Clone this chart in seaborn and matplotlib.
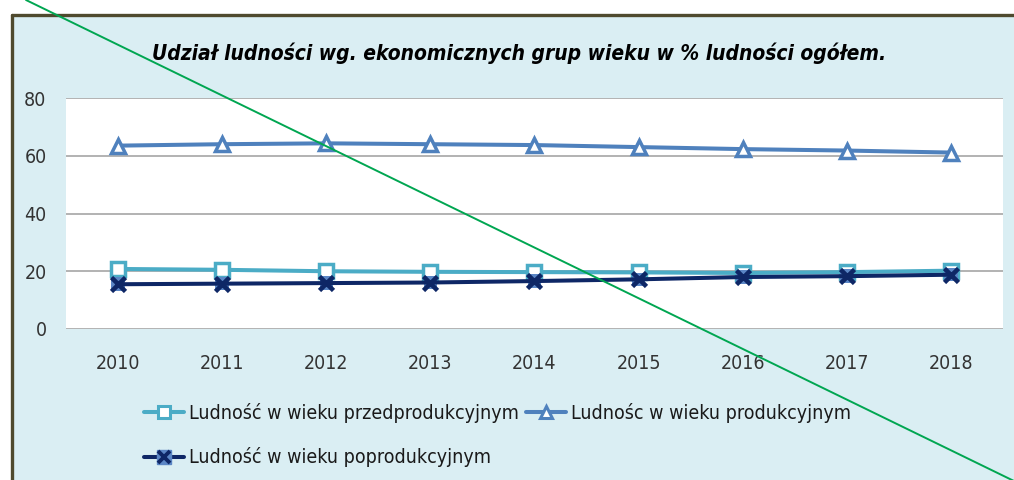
import matplotlib
matplotlib.use("Agg")
import matplotlib.pyplot as plt
import seaborn as sns
import pandas as pd
from matplotlib import font_manager as fm
from matplotlib.lines import Line2D
from matplotlib.patches import Rectangle
from matplotlib.legend_handler import HandlerTuple

# ---------------- data ----------------
years = [2010, 2011, 2012, 2013, 2014, 2015, 2016, 2017, 2018]
przedprodukcyjny = [20.8, 20.5, 20.0, 19.8, 19.7, 19.6, 19.4, 19.7, 20.2]
produkcyjny = [63.5, 64.0, 64.3, 64.0, 63.7, 63.0, 62.3, 61.8, 61.1]
poprodukcyjny = [15.5, 15.7, 15.9, 16.1, 16.6, 17.2, 18.0, 18.3, 18.8]
y_ticks = [0, 20, 40, 60, 80]

title = "Udział ludności wg. ekonomicznych grup wieku w % ludności ogółem."
lab_przed = "Ludność w wieku przedprodukcyjnym"
lab_prod = "Ludnośc w wieku produkcyjnym"
lab_po = "Ludność w wieku poprodukcyjnym"

# ---------------- style ----------------
sns.set_theme(style="white")
names = {f.name for f in fm.fontManager.ttflist}
if "Liberation Sans Narrow" in names:
    FONT = "Liberation Sans Narrow"
    STRETCH = "normal"
else:
    FONT = "DejaVu Sans"
    STRETCH = "condensed"
plt.rcParams["font.family"] = [FONT, "DejaVu Sans"]
plt.rcParams["font.stretch"] = STRETCH

C_PRZED = "#4bacc6"
C_PROD = "#4f81bd"
C_PO = "#0e2766"
C_PO_BG = "#5b86c5"
BG = "#daeef3"
FRAME = "#4f4a2e"
GREEN = "#00a651"
LW = 2.9

W, H = 1014, 480
fig = plt.figure(figsize=(W / 100, H / 100), dpi=100)
fig.patch.set_facecolor("white")

# chart area background with frame (top & left border)
fig.patches.append(Rectangle((12 / W, 0), 1.0, 1 - 15 / H, transform=fig.transFigure,
                             facecolor=BG, edgecolor="none", zorder=-10))
fig.lines.append(Line2D([12 / W, 1.0], [1 - 15 / H, 1 - 15 / H], transform=fig.transFigure,
                        color=FRAME, lw=2.4, zorder=-5))
fig.lines.append(Line2D([12 / W, 12 / W], [0, 1 - 15 / H], transform=fig.transFigure,
                        color=FRAME, lw=2.4, zorder=-5))

ax = fig.add_axes([66 / W, 1 - 329 / H, (1003 - 66) / W, (329 - 98) / H])
ax.set_facecolor("white")

df = pd.DataFrame({"rok": years, "przed": przedprodukcyjny,
                   "prod": produkcyjny, "po": poprodukcyjny})

sns.lineplot(data=df, x="rok", y="przed", ax=ax, color=C_PRZED, lw=LW,
             marker="s", markersize=9.5, markerfacecolor="white",
             markeredgecolor=C_PRZED, markeredgewidth=2.5, zorder=3)
sns.lineplot(data=df, x="rok", y="prod", ax=ax, color=C_PROD, lw=LW,
             marker="^", markersize=10.5, markerfacecolor="white",
             markeredgecolor=C_PROD, markeredgewidth=2.5, zorder=3)
sns.scatterplot(data=df, x="rok", y="po", ax=ax, marker="s", s=95,
                color=C_PO_BG, edgecolor="none", zorder=4)
sns.lineplot(data=df, x="rok", y="po", ax=ax, color=C_PO, lw=LW,
             marker="x", markersize=10, markeredgecolor=C_PO,
             markeredgewidth=3.3, zorder=5)

ax.set_xlim(years[0] - 0.5, years[-1] + 0.5)
ax.set_ylim(y_ticks[0], y_ticks[-1])
ax.set_xticks(years)
ax.set_xticklabels([str(y) for y in years])
ax.set_yticks(y_ticks)
ax.set_yticklabels([str(v) for v in y_ticks])
ax.set_xlabel("")
ax.set_ylabel("")
ax.grid(axis="y", color="#a6a6a6", lw=1.2)
ax.grid(axis="x", visible=False)
for s in ["top", "right", "left", "bottom"]:
    ax.spines[s].set_visible(False)
ax.tick_params(axis="x", length=0, pad=18, labelsize=14, labelcolor="#333333")
ax.tick_params(axis="y", length=0, pad=14, labelsize=14, labelcolor="#333333")

fig.text(519 / W, 1 - 60 / H, title, ha="center", va="baseline",
         fontsize=15, fontweight="bold", fontstyle="italic", color="black")

# legend
h_przed = Line2D([], [], color=C_PRZED, lw=LW, marker="s", markersize=8,
                 markerfacecolor="white", markeredgecolor=C_PRZED, markeredgewidth=2.2)
h_prod = Line2D([], [], color=C_PROD, lw=LW, marker="^", markersize=9,
                markerfacecolor="white", markeredgecolor=C_PROD, markeredgewidth=2.2)
h_po_bg = Line2D([], [], color=C_PO, lw=LW, marker="s", markersize=9.5,
                 markerfacecolor=C_PO_BG, markeredgecolor=C_PO_BG)
h_po = Line2D([], [], color=C_PO, lw=0, marker="x", markersize=8,
              markeredgecolor=C_PO, markeredgewidth=2.8)
leg = fig.legend([h_przed, (h_po_bg, h_po), h_prod], [lab_przed, lab_po, lab_prod],
                 loc="upper left", bbox_to_anchor=(144 / W, 1 - 403 / H), ncol=2,
                 frameon=False, fontsize=14, handlelength=2.06, handletextpad=0.26,
                 columnspacing=0.36, labelspacing=1.25, borderpad=0, borderaxespad=0,
                 handler_map={tuple: HandlerTuple(ndivide=1, pad=0)})
for t in leg.get_texts():
    t.set_color("#1a1a1a")

# diagonal green line across the whole image
fig.lines.append(Line2D([26 / W, 1014 / W], [1.0, 1 - 481 / H], transform=fig.transFigure,
                        color=GREEN, lw=1.4, zorder=100))

fig.savefig("out.png", dpi=100, facecolor="white")
